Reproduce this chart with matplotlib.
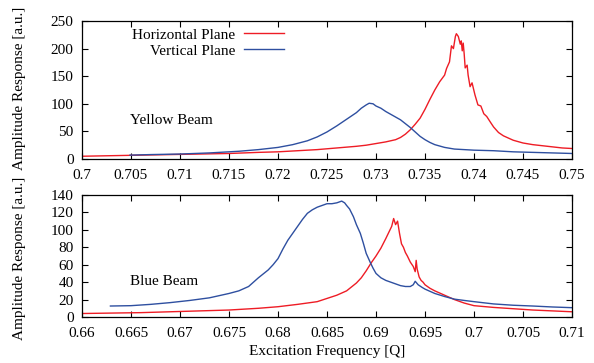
import matplotlib
matplotlib.use('Agg')
import matplotlib.pyplot as plt

plt.rcParams['font.family'] = ['Liberation Serif', 'DejaVu Serif']
plt.rcParams['font.size'] = 11

RED = '#ee1c25'
BLUE = '#2e4fa0'

# Yellow beam (top panel)
yel_h_x = [0.700, 0.703, 0.706, 0.709, 0.712, 0.715, 0.718, 0.720, 0.722, 0.724, 0.726,
           0.728, 0.729, 0.730, 0.731, 0.732, 0.7325, 0.733, 0.7335, 0.734, 0.7345, 0.735,
           0.7355, 0.736, 0.7365, 0.737, 0.7372, 0.7375, 0.7377, 0.7379, 0.7381, 0.7382,
           0.7384, 0.7386, 0.7387, 0.7388, 0.7389, 0.7390, 0.7391, 0.7393, 0.7394, 0.7396,
           0.7398, 0.7401, 0.7404, 0.7407, 0.7410, 0.7413, 0.7417, 0.7420, 0.7425, 0.7430,
           0.7440, 0.7450, 0.7460, 0.7470, 0.7480, 0.7490, 0.7500]
yel_h_y = [5, 6, 7, 8, 9, 10, 12, 13, 15, 17, 20,
           23, 25, 28, 31, 35, 39, 45, 53, 63, 74, 90,
           108, 125, 140, 152, 164, 176, 205, 200, 222, 227,
           222, 208, 214, 196, 210, 190, 165, 170, 152, 131,
           138, 116, 98, 96, 82, 77, 66, 58, 48, 42,
           34, 29, 26, 24, 22, 20, 19]

yel_v_x = [0.7049, 0.707, 0.710, 0.713, 0.716, 0.718, 0.720, 0.7215, 0.723, 0.724, 0.725,
           0.726, 0.727, 0.728, 0.7285, 0.729, 0.7293, 0.7297, 0.730, 0.7305, 0.731, 0.7315,
           0.732, 0.7325, 0.733, 0.7335, 0.734, 0.7345, 0.735, 0.7355, 0.736, 0.737, 0.738,
           0.739, 0.740, 0.742, 0.744, 0.746, 0.748, 0.750]
yel_v_y = [7, 8, 9, 11, 14, 17, 21, 26, 33, 40, 49,
           60, 72, 84, 92, 98, 101, 100, 96, 92, 86, 81,
           76, 71, 64, 57, 49, 41, 35, 30, 26, 21, 18,
           17, 16, 15, 13, 12, 11, 10]

# Blue beam (bottom panel)
blu_h_x = [0.660, 0.663, 0.666, 0.669, 0.672, 0.675, 0.678, 0.680, 0.682, 0.684, 0.686,
           0.687, 0.688, 0.6885, 0.689, 0.6895, 0.690, 0.6905, 0.691, 0.6913, 0.6916, 0.6918,
           0.692, 0.6922, 0.6924, 0.6926, 0.6928, 0.693, 0.6932, 0.6935, 0.6938, 0.694,
           0.6941, 0.6942, 0.6944, 0.6946, 0.6948, 0.695, 0.6955, 0.696, 0.697, 0.698,
           0.699, 0.700, 0.702, 0.704, 0.706, 0.708, 0.710]
blu_h_y = [4, 4.5, 5, 6, 7, 8, 10, 11.8, 14.5, 17.6, 25,
           30, 39, 45, 53, 62, 70, 79, 90, 97, 104, 113,
           106, 110, 96, 84, 80, 74, 70, 63, 58, 52,
           65, 55, 46, 42, 40, 37, 33, 30, 25, 20,
           16, 13, 11, 9.5, 8, 7, 6]

blu_v_x = [0.6629, 0.665, 0.667, 0.669, 0.671, 0.673, 0.675, 0.676, 0.677, 0.678, 0.679,
           0.6795, 0.680, 0.6805, 0.681, 0.6815, 0.682, 0.6825, 0.683, 0.6835, 0.684, 0.6845,
           0.685, 0.6855, 0.686, 0.6865, 0.6868, 0.687, 0.6873, 0.6877, 0.688, 0.6884,
           0.6887, 0.689, 0.6894, 0.6897, 0.690, 0.6905, 0.691, 0.6915, 0.692, 0.6925,
           0.693, 0.6935, 0.6938, 0.694, 0.6943, 0.6947, 0.695, 0.696, 0.697, 0.698,
           0.699, 0.700, 0.702, 0.704, 0.706, 0.708, 0.710]
blu_v_y = [12.6, 13, 14.5, 16.5, 19, 22, 27, 30, 35, 45, 54,
           60, 67, 78, 88, 96, 104, 112, 119, 123, 126, 128,
           130, 130, 131, 133, 131, 128, 124, 115, 106, 96,
           85, 73, 63, 56, 50, 45, 42, 40, 38, 36,
           35, 35, 37, 41, 37, 34, 32, 27, 23.5, 20.5,
           19, 17.6, 15, 13.5, 12.6, 11.5, 10.7]

fig = plt.figure(figsize=(5.94, 3.63), dpi=100)
ax1 = fig.add_axes([82 / 594, 1 - 159 / 363, 490 / 594, 138 / 363])
ax2 = fig.add_axes([82 / 594, 1 - 317 / 363, 490 / 594, 122 / 363])

ax1.plot(yel_h_x, yel_h_y, color=RED, lw=1.0, label='Horizontal Plane')
ax1.plot(yel_v_x, yel_v_y, color=BLUE, lw=1.0, label='Vertical Plane')
ax1.set_xlim(0.7, 0.75)
ax1.set_ylim(0, 250)
ax1.set_xticks([0.7, 0.705, 0.71, 0.715, 0.72, 0.725, 0.73, 0.735, 0.74, 0.745, 0.75])
ax1.set_xticklabels(['0.7', '0.705', '0.71', '0.715', '0.72', '0.725', '0.73', '0.735',
                     '0.74', '0.745', '0.75'])
ax1.set_yticks([0, 50, 100, 150, 200, 250])
ax1.text(0.7049, 70, 'Yellow Beam', va='center', ha='left')
ax1.legend(loc='upper left', bbox_to_anchor=(0.102, 0.95), markerfirst=False,
           frameon=False, handlelength=2.6, handletextpad=0.6, labelspacing=0.15,
           borderpad=0, borderaxespad=0)

ax2.plot(blu_h_x, blu_h_y, color=RED, lw=1.0)
ax2.plot(blu_v_x, blu_v_y, color=BLUE, lw=1.0)
ax2.set_xlim(0.66, 0.71)
ax2.set_ylim(0, 140)
ax2.set_xticks([0.66, 0.665, 0.67, 0.675, 0.68, 0.685, 0.69, 0.695, 0.7, 0.705, 0.71])
ax2.set_xticklabels(['0.66', '0.665', '0.67', '0.675', '0.68', '0.685', '0.69', '0.695',
                     '0.7', '0.705', '0.71'])
ax2.set_yticks([0, 20, 40, 60, 80, 100, 120, 140])
ax2.text(0.6649, 40.5, 'Blue Beam', va='center', ha='left')

for ax in (ax1, ax2):
    ax.tick_params(direction='in', top=True, right=True, length=4.5, width=0.8)
    ax.tick_params(axis='x', pad=7)
    ax.tick_params(axis='y', pad=6)
    for s in ax.spines.values():
        s.set_linewidth(0.9)

fig.text(20 / 594, 1 - 88 / 363, 'Amplitude Response [a.u.]', rotation=90,
         ha='center', va='center')
fig.text(20 / 594, 1 - 258 / 363, 'Amplitude Response [a.u.]', rotation=90,
         ha='center', va='center')
fig.text(327 / 594, 1 - 352 / 363, 'Excitation Frequency [Q]', ha='center', va='center')

fig.savefig('out.png', dpi=100)
